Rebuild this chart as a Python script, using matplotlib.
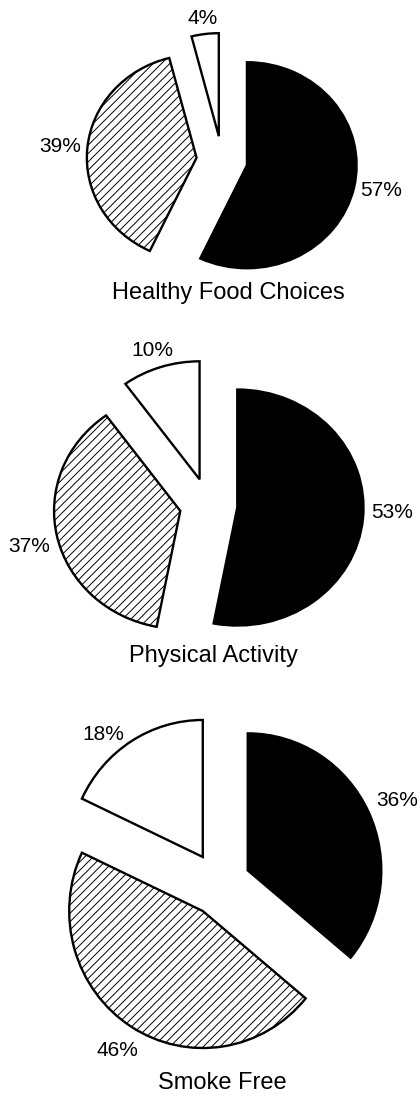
import matplotlib
matplotlib.use("Agg")
import matplotlib.pyplot as plt

plt.rcParams['font.family'] = ['Liberation Sans', 'DejaVu Sans']
plt.rcParams['hatch.linewidth'] = 0.7

# ---- data ----
titles = ["Healthy Food Choices", "Physical Activity", "Smoke Free"]
food_values = [57, 39, 4]
activity_values = [53, 37, 10]
smoke_values = [36, 46, 18]
all_values = [food_values, activity_values, smoke_values]

# ---- layout (pixel space, y downward) ----
W, H = 419, 1095
fig = plt.figure(figsize=(W / 100, H / 100), dpi=100)

# per-pie: center (px), vertical radius, explode, horizontal stretch
pie_layout = [
    dict(c=(222, 160), r=103, e=24, sx=1.065,
         labels=[(381, 190), (60, 146), (203, 19)], title=(228, 293)),
    dict(c=(208.5, 505), r=118, e=27, sx=1.07,
         labels=[(392, 512), (29, 546), (152, 350)], title=(213, 656)),
    dict(c=(219.5, 884), r=137, e=32, sx=0.975,
         labels=[(397, 800), (117, 1050), (103, 735)], title=(222, 1083)),
]

colors = ['black', 'white', 'white']
hatches = [None, '////', None]

for vals, lay in zip(all_values, pie_layout):
    ax = fig.add_axes([0, 0, 1, 1])
    cx, cy = lay['c']
    sx = lay['sx']
    wedges, _ = ax.pie(vals, radius=lay['r'], startangle=90, counterclock=False,
                       explode=[lay['e']] * len(vals), colors=colors,
                       wedgeprops=dict(edgecolor='black', linewidth=1.7),
                       normalize=True)
    for w, h in zip(wedges, hatches):
        if h:
            w.set_hatch(h)
    ax.set_aspect('auto')
    ax.set_xlim((0 - cx) / sx, (W - cx) / sx)
    ax.set_ylim(cy - H, cy)
    ax.axis('off')

# overlay for text in pixel coordinates
tax = fig.add_axes([0, 0, 1, 1])
tax.set_xlim(0, W)
tax.set_ylim(H, 0)
tax.axis('off')
tax.patch.set_alpha(0)

for vals, lay, title in zip(all_values, pie_layout, titles):
    for v, (lx, ly) in zip(vals, lay['labels']):
        tax.text(lx, ly, f"{v}%", ha='center', va='center', fontsize=15)
    tx, ty = lay['title']
    tax.text(tx, ty, title, ha='center', va='center', fontsize=17)

fig.savefig("out.png", dpi=100, facecolor='white')
